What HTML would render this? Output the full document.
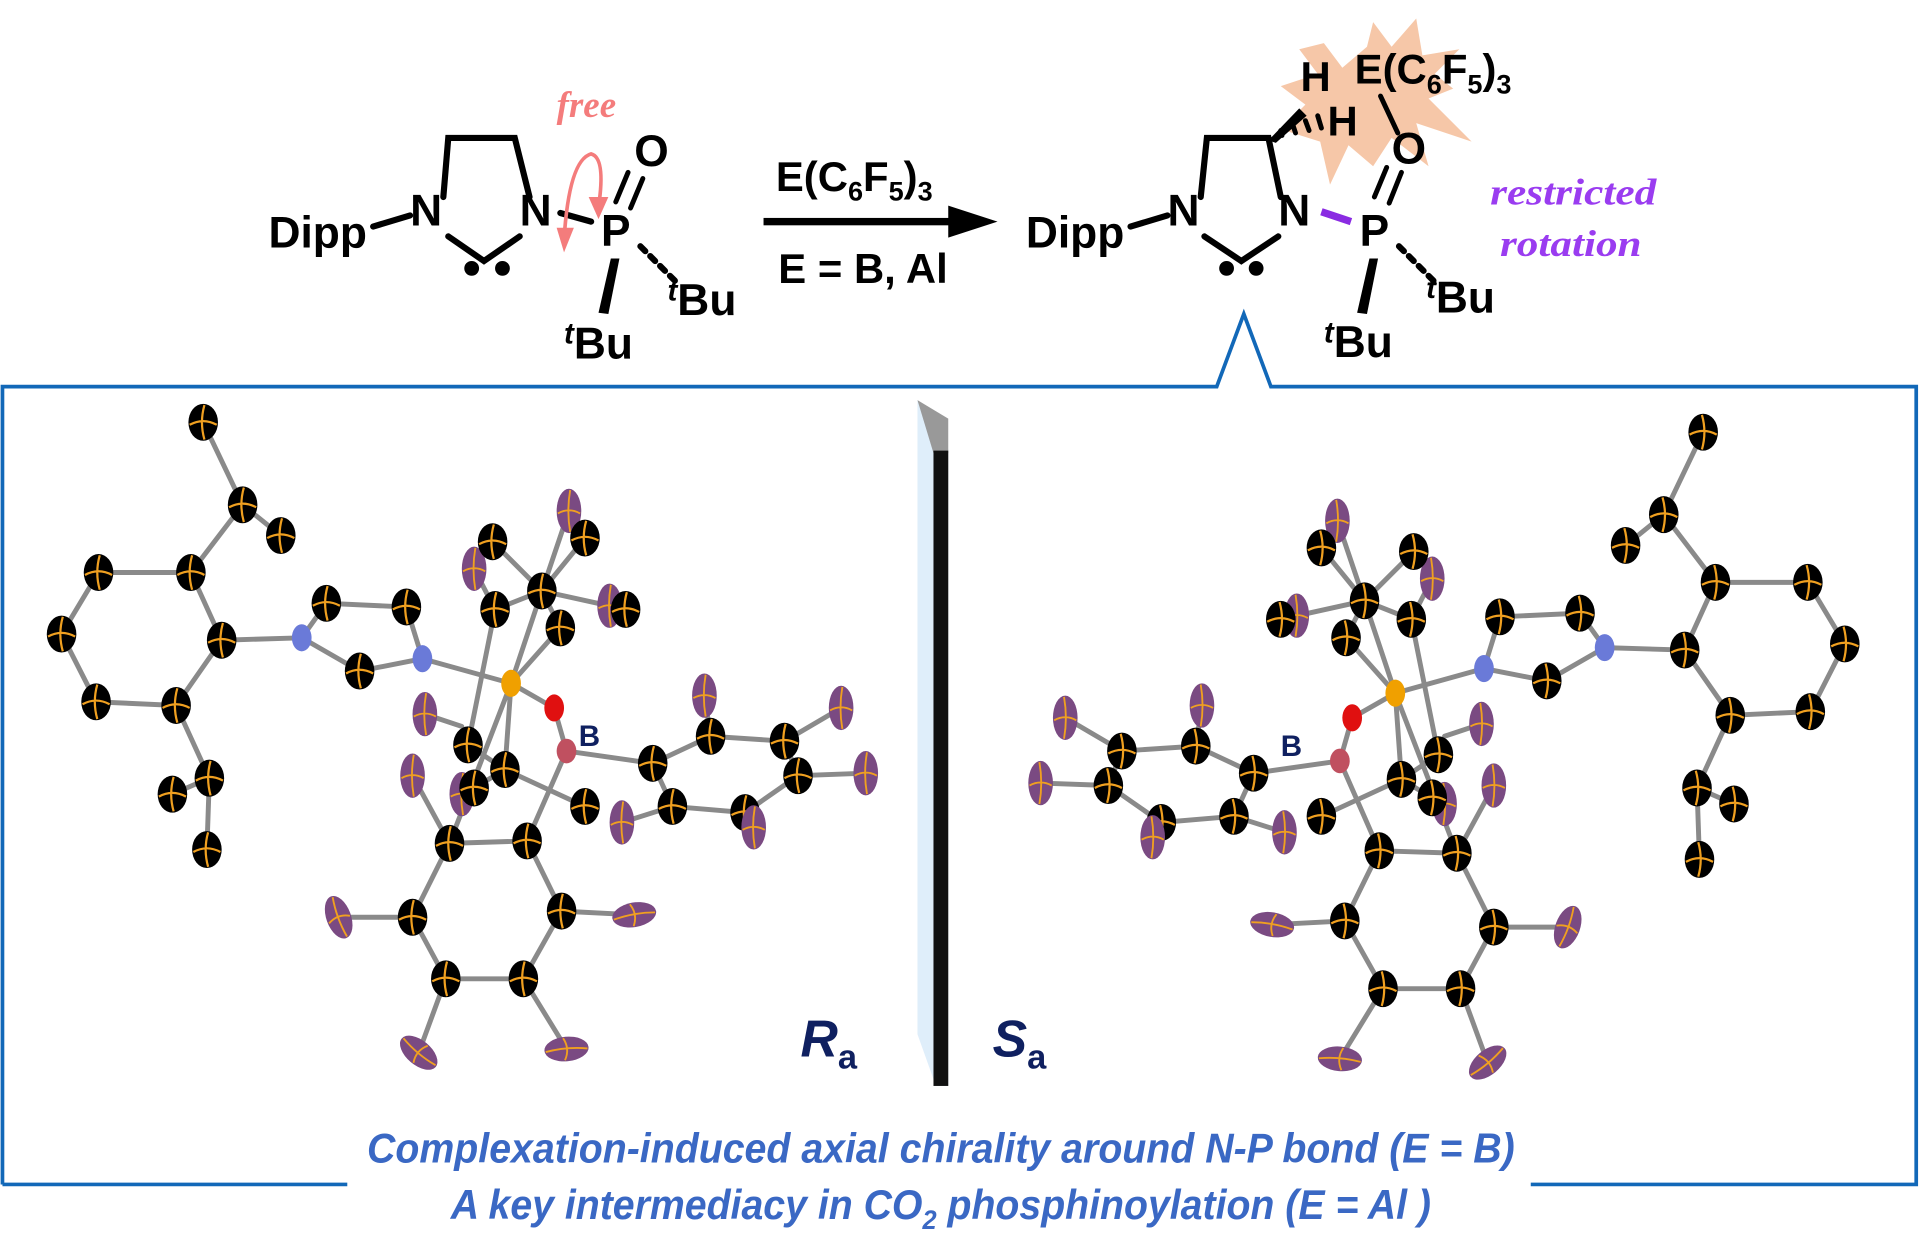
<!DOCTYPE html>
<html><head><meta charset="utf-8"><style>
html,body{margin:0;padding:0;background:#fff;overflow:hidden}
svg{display:block}
.t{font-family:"Liberation Sans",sans-serif;font-weight:bold;fill:#000}
.b{stroke:#8a8a8a;stroke-width:4;stroke-linecap:round}
</style></head><body>
<svg width="1931" height="1246" viewBox="0 0 1568 1012" preserveAspectRatio="none" xmlns="http://www.w3.org/2000/svg">
<defs>
<g id="c"><ellipse rx="12" ry="15" fill="#000"/><path d="M-11,2 Q0,-4 11,2 M1,-14 Q-3,0 1,14" stroke="#f0a020" stroke-width="1.8" fill="none"/></g>
<g id="f"><ellipse rx="10" ry="18" fill="#7a4a82"/><path d="M-9,2 Q0,-3 9,2 M1,-17 Q-2,0 1,17" stroke="#f0a020" stroke-width="1.5" fill="none"/></g>
<g id="mol">
<g class="b" fill="none">
<path d="M165,343 L197,410 L228,435 M197,410 L155,465 L80,465 L50,515 L78,570 L143,573 L180,520 L155,465 M180,520 L245,518 M143,573 L170,632 L140,645 M170,632 L168,690"/>
<path d="M245,518 L265,490 L330,493 L343,535 L292,545 Z M343,535 L415,555 L450,575 L460,610 L530,620 M460,610 L428,683"/>
<path d="M415,555 L440,480 L400,440 M440,480 L462,415 M440,480 L508,495 M455,510 L440,480 M402,495 L385,462 M402,495 L440,480 M455,510 L415,555 M475,437 L440,480"/>
<path d="M415,555 L410,625 L380,605 M410,625 L475,655 M410,625 L385,640 M415,555 L365,685 M402,495 L380,605 M345,580 L375,590"/>
<path d="M365,685 L428,683 L456,740 L425,795 L362,795 L335,745 Z M335,745 L275,745 M456,740 L515,743 M362,795 L340,855 M425,795 L460,852 M365,685 L335,630"/>
<path d="M530,620 L577,598 L637,602 L648,630 L605,660 L546,655 Z M577,598 L572,565 M637,602 L683,575 M648,630 L703,628 M605,660 L612,672 M546,655 L505,668"/>
</g>
<use href="#c" x="165" y="343"/><use href="#c" x="197" y="410"/><use href="#c" x="228" y="435"/>
<use href="#c" x="155" y="465"/><use href="#c" x="80" y="465"/><use href="#c" x="50" y="515"/><use href="#c" x="78" y="570"/><use href="#c" x="143" y="573"/><use href="#c" x="180" y="520"/>
<use href="#c" x="170" y="632"/><use href="#c" x="140" y="645"/><use href="#c" x="168" y="690"/>
<use href="#c" x="265" y="490"/><use href="#c" x="330" y="493"/><use href="#c" x="292" y="545"/>
<ellipse cx="245" cy="518" rx="8" ry="11" fill="#6a7ad8"/><ellipse cx="343" cy="535" rx="8" ry="11" fill="#6a7ad8"/>
<use href="#f" x="462" y="415"/><use href="#f" x="385" y="462"/><use href="#f" x="495" y="492"/><use href="#f" x="345" y="580"/><use href="#f" x="335" y="630"/><use href="#f" x="375" y="645"/>
<use href="#c" x="400" y="440"/><use href="#c" x="440" y="480"/><use href="#c" x="475" y="437"/><use href="#c" x="508" y="495"/><use href="#c" x="455" y="510"/><use href="#c" x="402" y="495"/>
<use href="#c" x="380" y="605"/><use href="#c" x="410" y="625"/><use href="#c" x="475" y="655"/><use href="#c" x="385" y="640"/>
<ellipse cx="415" cy="555" rx="8" ry="11" fill="#f0a000"/><ellipse cx="450" cy="575" rx="8" ry="11" fill="#e01010"/><ellipse cx="460" cy="610" rx="8" ry="10" fill="#c05060"/>
<use href="#c" x="365" y="685"/><use href="#c" x="428" y="683"/><use href="#c" x="456" y="740"/><use href="#c" x="425" y="795"/><use href="#c" x="362" y="795"/><use href="#c" x="335" y="745"/>
<use href="#f" x="275" y="745" transform="rotate(-20 275 745)"/><use href="#f" x="515" y="743" transform="rotate(80 515 743)"/><use href="#f" x="340" y="855" transform="rotate(-50 340 855)"/><use href="#f" x="460" y="852" transform="rotate(85 460 852)"/>
<use href="#c" x="530" y="620"/><use href="#c" x="577" y="598"/><use href="#c" x="637" y="602"/><use href="#c" x="648" y="630"/><use href="#c" x="605" y="660"/><use href="#c" x="546" y="655"/>
<use href="#f" x="572" y="565"/><use href="#f" x="683" y="575"/><use href="#f" x="703" y="628"/><use href="#f" x="612" y="672"/><use href="#f" x="505" y="668"/>
</g>
</defs>

<path d="M2,962 L2,314 L988,314 L1010,255 L1032,314 L1556,314 L1556,962 L1243,962 M282,962 L2,962" fill="none" stroke="#1268b8" stroke-width="3"/>

<use href="#mol"/>
<use href="#mol" transform="translate(1548,8) scale(-1,1)"/>
<text x="470" y="606" class="t" style="fill:#0f2060" font-size="24">B</text>
<text x="1040" y="614" class="t" style="fill:#0f2060" font-size="24">B</text>

<polygon points="745,325 770,365 770,882 760,882 745,840" fill="#dfeefa"/>
<polygon points="745,325 770,340 770,368 758,368" fill="#999"/>
<rect x="758" y="366" width="12" height="516" fill="#111"/>
<text x="650" y="858" class="t" font-size="42" font-style="italic" style="fill:#0f2060">R<tspan font-size="28" font-style="normal" dy="10">a</tspan></text>
<text x="806" y="858" class="t" font-size="42" font-style="italic" style="fill:#0f2060">S<tspan font-size="28" font-style="normal" dy="10">a</tspan></text>

<g class="t" font-style="italic" style="fill:#3a68c4" font-size="34">
<text x="298" y="944" textLength="932" lengthAdjust="spacingAndGlyphs">Complexation-induced axial chirality around N-P bond (E = B)</text>
<text x="366" y="990" textLength="796" lengthAdjust="spacingAndGlyphs">A key intermediacy in CO<tspan font-size="22" dy="8">2</tspan><tspan dy="-8"> phosphinoylation (E = Al )</tspan></text>
</g>

<g stroke="#000" stroke-width="5" stroke-linecap="round" fill="none">
<path d="M303,184 L333,175 M360,160 L364,112 L418,112 L430,160 M364,192 L393,212 L422,192 M455,173 L480,180"/>
<path d="M512,169 L522,145 M500,164 L510,140" stroke-width="4"/>
<path d="M520,200 L524,204 M528,208 L532,212 M536,216 L540,220 M544,224 L548,228" stroke-width="5"/>
</g>
<polygon points="496,210 503,210 494,255 486,254" fill="#000"/>
<circle cx="383" cy="218" r="6"/><circle cx="408" cy="218" r="6"/>
<text x="218" y="201" class="t" font-size="36">Dipp</text>
<text x="333" y="183" class="t" font-size="36">N</text>
<text x="422" y="183" class="t" font-size="36">N</text>
<text x="488" y="200" class="t" font-size="36">P</text>
<text x="515" y="135" class="t" font-size="36">O</text>
<text x="542" y="256" class="t" font-size="36"><tspan font-style="italic" font-size="24" dy="-12">t</tspan><tspan dy="12">Bu</tspan></text>
<text x="458" y="291" class="t" font-size="36"><tspan font-style="italic" font-size="24" dy="-12">t</tspan><tspan dy="12">Bu</tspan></text>
<text x="452" y="95" font-family="Liberation Serif,serif" font-style="italic" font-weight="bold" font-size="30" fill="#f47c7c">free</text>
<path d="M458,195 Q462,130 480,125 Q492,128 486,168" fill="none" stroke="#f47c7c" stroke-width="3"/>
<polygon points="452,185 466,185 458,205" fill="#f47c7c"/>
<polygon points="478,160 494,160 486,178" fill="#f47c7c"/>

<rect x="620" y="177" width="160" height="6" fill="#000"/>
<polygon points="770,167 810,180 770,193" fill="#000"/>
<text x="630" y="155" class="t" font-size="34">E(C<tspan font-size="22" dy="8">6</tspan><tspan dy="-8">F</tspan><tspan font-size="22" dy="8">5</tspan><tspan dy="-8">)</tspan><tspan font-size="22" dy="8">3</tspan></text>
<text x="632" y="230" class="t" font-size="34">E = B, Al</text>

<polygon points="1075,35 1090,55 1110,38 1115,18 1130,38 1150,15 1155,45 1185,40 1165,60 1180,72 1160,80 1195,115 1150,100 1160,135 1130,112 1115,135 1095,118 1080,150 1072,115 1040,105 1060,85 1040,70 1070,60 1055,40" fill="#f6c7a8"/>
<g stroke="#000" stroke-width="5" stroke-linecap="round" fill="none">
<path d="M918,184 L948,175 M975,160 L980,112 L1030,112 L1040,160 M978,192 L1008,212 L1038,192"/>
<path d="M1128,165 L1138,140 M1116,160 L1126,136" stroke-width="4"/>
<path d="M1136,200 L1140,204 M1144,208 L1148,212 M1152,216 L1156,220 M1160,224 L1164,228"/>
<path d="M1040,106 L1041,110 M1050,102 L1052,108 M1060,98 L1063,106 M1070,94 L1073,104" stroke-width="4"/>
<path d="M1121,78 L1135,108" stroke-width="4"/>
</g>
<polygon points="1030,114 1055,88 1061,94 1036,116" fill="#000"/>
<path d="M1073,172 L1097,180" stroke="#8a2be2" stroke-width="6"/>
<polygon points="1112,210 1119,210 1110,255 1102,254" fill="#000"/>
<circle cx="996" cy="218" r="6"/><circle cx="1020" cy="218" r="6"/>
<text x="833" y="201" class="t" font-size="36">Dipp</text>
<text x="948" y="183" class="t" font-size="36">N</text>
<text x="1038" y="183" class="t" font-size="36">N</text>
<text x="1104" y="200" class="t" font-size="36">P</text>
<text x="1130" y="133" class="t" font-size="36">O</text>
<text x="1056" y="74" class="t" font-size="34">H</text>
<text x="1078" y="110" class="t" font-size="34">H</text>
<text x="1100" y="68" class="t" font-size="34">E(C<tspan font-size="22" dy="8">6</tspan><tspan dy="-8">F</tspan><tspan font-size="22" dy="8">5</tspan><tspan dy="-8">)</tspan><tspan font-size="22" dy="8">3</tspan></text>
<text x="1158" y="254" class="t" font-size="36"><tspan font-style="italic" font-size="24" dy="-12">t</tspan><tspan dy="12">Bu</tspan></text>
<text x="1075" y="290" class="t" font-size="36"><tspan font-style="italic" font-size="24" dy="-12">t</tspan><tspan dy="12">Bu</tspan></text>
<g font-family="Liberation Serif,serif" font-style="italic" font-weight="bold" font-size="30" fill="#9a3cf0">
<text x="1210" y="166" textLength="135" lengthAdjust="spacingAndGlyphs">restricted</text>
<text x="1218" y="208" textLength="115" lengthAdjust="spacingAndGlyphs">rotation</text>
</g>
</svg>
</body></html>
